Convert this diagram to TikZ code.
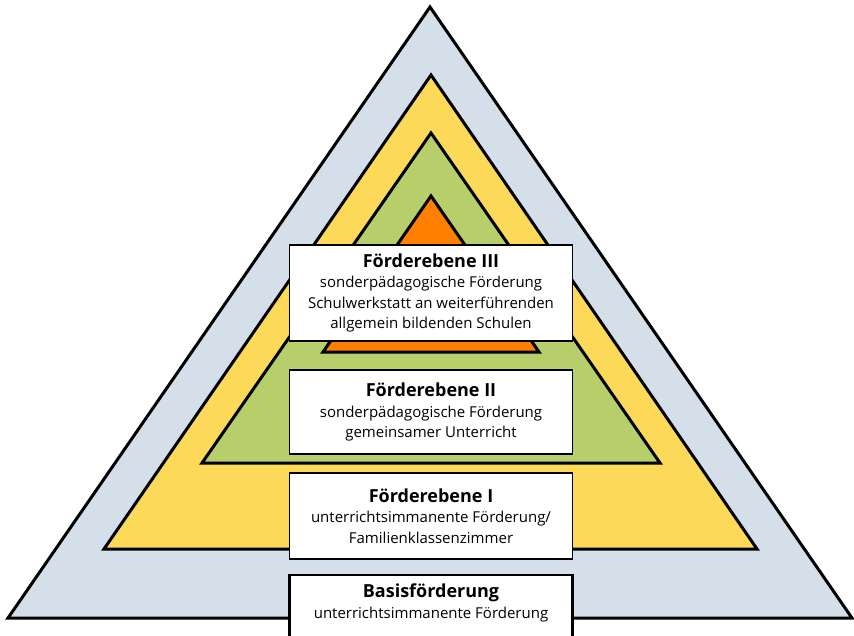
\documentclass[tikz,border=0pt]{standalone}
\usepackage{fontspec}
\setmainfont{Open Sans}
\definecolor{baseBlue}{RGB}{213,223,234}
\definecolor{lvlYellow}{RGB}{253,217,90}
\definecolor{lvlGreen}{RGB}{182,207,107}
\definecolor{lvlOrange}{RGB}{255,128,0}
\newcommand{\lvltitle}[1]{{\fontsize{18}{20.5}\selectfont\bfseries #1}}
\begin{document}
\begin{tikzpicture}[x=1pt, y=-1pt,
  tri/.style={draw=black, line width=3pt, line join=miter},
  lvl/.style={draw=black, fill=white, line width=1.5pt, minimum width=283pt, align=center,
    inner sep=0pt, font=\fontsize{15}{20.5}\selectfont}]
\useasboundingbox (0,0) rectangle (854,636);
% Pyramide
\draw[tri, fill=baseBlue] (430,7) -- (852,618) -- (8,618) -- cycle;
\draw[tri, fill=lvlYellow] (431,75) -- (757,549) -- (104,549) -- cycle;
\draw[tri, fill=lvlGreen] (431,133) -- (660,463) -- (202,463) -- cycle;
\draw[tri, fill=lvlOrange] (431,196) -- (539,352) -- (323,352) -- cycle;
% Ebenen
\node[lvl, minimum height=96pt] (ebeneIII) at (431,293) {\lvltitle{Förderebene III}\\sonderpädagogische Förderung\\Schulwerkstatt an weiterführenden\\allgemein bildenden Schulen};
\node[lvl, minimum height=84pt] (ebeneII) at (431,412) {\lvltitle{Förderebene II}\\sonderpädagogische Förderung\\gemeinsamer Unterricht};
\node[lvl, minimum height=86pt] (ebeneI) at (431,516) {\lvltitle{Förderebene I}\\unterrichtsimmanente Förderung/\\Familienklassenzimmer};
\node[lvl, line width=2.5pt, minimum height=66pt, text depth=14pt] (basis) at (431,608) {\lvltitle{Basisförderung}\\unterrichtsimmanente Förderung};
\end{tikzpicture}
\end{document}
